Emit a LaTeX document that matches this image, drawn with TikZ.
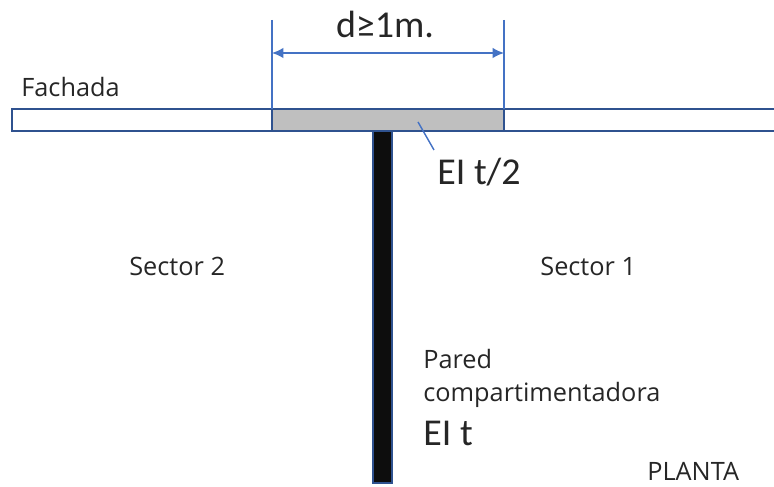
\documentclass[tikz,border=0pt]{standalone}
\usepackage{fontspec}
\usetikzlibrary{arrows.meta}
\setmainfont{Carlito}
\newfontfamily\letrap{Open Sans}
\definecolor{linea}{RGB}{68,114,196}
\definecolor{oscuro}{RGB}{47,82,143}
\definecolor{relleno}{RGB}{191,191,191}
\definecolor{negro}{RGB}{13,13,13}
\definecolor{texto}{RGB}{38,38,38}
\begin{document}
\begin{tikzpicture}[>={Latex[length=6.5pt,width=6pt]},
  cota/.style={color=linea,line width=0.8pt},
  peque/.style={text=texto,font=\letrap\fontsize{14.4pt}{16pt}\selectfont,inner sep=0pt},
  grande/.style={text=texto,font=\fontsize{21.6pt}{25pt}\selectfont,inner sep=0pt}]
\useasboundingbox (0,0) rectangle (15.48,9.74);
\draw[color=oscuro,line width=0.8pt] (15.48,7.56) -- (0.24,7.56) -- (0.24,7.12) -- (15.48,7.12);
\draw[color=oscuro,fill=relleno,line width=0.8pt] (5.44,7.12) rectangle (10.08,7.56);
\draw[color=oscuro,fill=negro,line width=0.8pt] (7.46,0.08) rectangle (7.84,7.12);
\coordinate (izqa) at (5.44,9.34);
\coordinate (izqb) at (5.44,7.56);
\coordinate (dera) at (10.08,9.34);
\coordinate (derb) at (10.08,7.56);
\coordinate (izqc) at (5.44,8.68);
\coordinate (derc) at (10.08,8.68);
\coordinate (mitad) at (8.36,7.30);
\draw[cota] (izqa) -- (izqb);
\draw[cota] (dera) -- (derb);
\draw[cota,<->] (izqc) -- (derc);
\node[grande] (cotad) at (7.70,9.25) {d≥1m.};
\node[peque,anchor=west] (fachada) at (0.42,8.00) {Fachada};
\node[grande,anchor=west] (eimitad) at (8.74,6.30) {EI t/2};
\coordinate (mitadb) at (8.68,6.74);
\draw[cota] (mitad) -- (mitadb);
\node[peque,anchor=west] (sectordos) at (2.58,4.42) {Sector 2};
\node[peque,anchor=west] (sectoruno) at (10.80,4.42) {Sector 1};
\node[peque,anchor=west] (pared) at (8.46,2.56) {Pared};
\node[peque,anchor=west] (compart) at (8.46,1.84) {compartimentadora};
\node[grande,anchor=west] (eit) at (8.46,1.08) {EI t};
\node[peque,anchor=west] (planta) at (12.94,0.32) {PLANTA};
\end{tikzpicture}
\end{document}
